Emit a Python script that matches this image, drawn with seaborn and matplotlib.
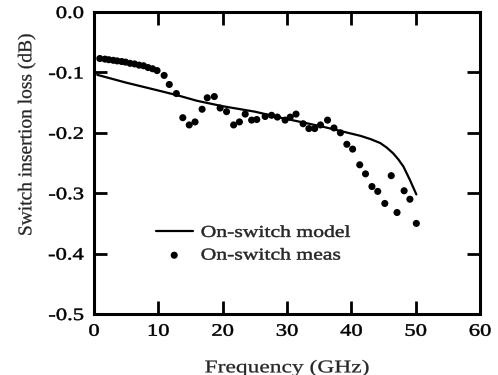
import numpy as np
import pandas as pd
import matplotlib
matplotlib.use("Agg")
import matplotlib.pyplot as plt
import matplotlib.patheffects as pe
from matplotlib.transforms import Affine2D
import seaborn as sns

# Measured on-switch insertion loss
meas_freq = [0.9, 1.7, 2.3, 3.0, 3.6, 4.3, 4.9, 5.6, 6.3, 7.0, 7.7, 8.4, 9.1, 9.8,
             10.9, 11.7, 12.8, 13.8, 14.8, 15.7, 16.8, 17.6, 18.7, 19.6, 20.6,
             21.7, 22.6, 23.5, 24.5, 25.3, 26.6, 27.6, 28.5, 29.7, 30.5, 31.4,
             32.5, 33.4, 34.3, 35.2, 36.3, 37.3, 38.3, 39.3, 40.2, 41.3, 42.2,
             43.2, 44.1, 45.2, 46.2, 47.1, 48.2, 49.1, 50.1]
meas_loss = [-0.077, -0.078, -0.079, -0.080, -0.081, -0.082, -0.083, -0.085,
             -0.086, -0.088, -0.089, -0.092, -0.094, -0.097, -0.105, -0.120,
             -0.135, -0.175, -0.187, -0.182, -0.161, -0.142, -0.140, -0.159,
             -0.165, -0.187, -0.182, -0.169, -0.179, -0.178, -0.173, -0.171,
             -0.174, -0.179, -0.174, -0.169, -0.185, -0.193, -0.193, -0.187,
             -0.179, -0.192, -0.200, -0.219, -0.227, -0.253, -0.268, -0.289,
             -0.297, -0.317, -0.271, -0.332, -0.296, -0.310, -0.350]

# On-switch model curve
model_freq = [0.5, 5, 10, 13, 16, 20, 25, 29, 33, 36, 38.3, 41.4, 43.0, 44.5,
              45.5, 46.5, 47.3, 48.1, 49.1, 50.1]
model_loss = [-0.104, -0.117, -0.130, -0.138, -0.147, -0.156, -0.165, -0.175,
              -0.184, -0.191, -0.197, -0.205, -0.2105, -0.217, -0.2245, -0.234,
              -0.244, -0.256, -0.278, -0.302]

x_ticks = [0, 10, 20, 30, 40, 50, 60]
y_ticks = [0.0, -0.1, -0.2, -0.3, -0.4, -0.5]


class StretchX(pe.AbstractPathEffect):
    """Draw text glyphs widened horizontally about a chosen anchor,
    with a thin outline to give them a little more weight."""

    def __init__(self, sx, anchor=0.5, stroke=0.35):
        super().__init__()
        self.sx = sx
        self.anchor = anchor
        self.stroke = stroke

    def draw_path(self, renderer, gc, tpath, affine, rgbFace=None):
        ext = tpath.get_extents()
        cx = ext.x0 + self.anchor * ext.width
        t = Affine2D().translate(-cx, 0).scale(self.sx, 1).translate(cx, 0) + affine
        gc0 = renderer.new_gc()
        gc0.copy_properties(gc)
        gc0.set_linewidth(self.stroke)
        gc0.set_foreground(rgbFace if rgbFace is not None else "black")
        renderer.draw_path(gc0, tpath, t, rgbFace)
        gc0.restore()


SX = 1.3

sns.set_style("ticks")
plt.rcParams["font.family"] = ["Liberation Serif", "DejaVu Serif"]
plt.rcParams["axes.unicode_minus"] = False

fig = plt.figure(figsize=(4.98, 3.75), dpi=100)
ax = fig.add_axes([0.1888, 0.1627, 0.9639 - 0.1888, 0.968 - 0.1627])

model_df = pd.DataFrame({"f": model_freq, "loss": model_loss})
meas_df = pd.DataFrame({"f": meas_freq, "loss": meas_loss})

sns.lineplot(data=model_df, x="f", y="loss", ax=ax, color="black",
             linewidth=1.6, label="On-switch model", sort=False)
sns.scatterplot(data=meas_df, x="f", y="loss", ax=ax, color="black",
                s=26, edgecolor="none", label="On-switch meas")

ax.set_xlim(0, 60)
ax.set_ylim(-0.5, 0.0)
ax.set_xticks(x_ticks)
ax.set_yticks(y_ticks)
ax.set_xticklabels([str(t) for t in x_ticks])
ax.set_yticklabels([f"{t:.1f}" if t != 0 else "0.0" for t in y_ticks])
ax.tick_params(direction="in", top=True, right=True, length=9.5, width=2.0,
               labelsize=12.5, colors="black")
ax.tick_params(axis="x", pad=7)
ax.tick_params(axis="y", pad=7.5)
for sp in ax.spines.values():
    sp.set_linewidth(2.2)
    sp.set_color("black")

for lab in ax.get_xticklabels():
    lab.set_path_effects([StretchX(SX, 0.5)])
for lab in ax.get_yticklabels():
    lab.set_path_effects([StretchX(SX, 1.0)])

ax.set_xlabel("Frequency (GHz)", fontsize=13, labelpad=14,
              path_effects=[StretchX(SX, 0.5, 0.2)])
ax.set_ylabel("Switch insertion loss (dB)", fontsize=14,
              path_effects=[StretchX(1.0, 0.5, 0.2)])
ax.yaxis.set_label_coords(-0.152, 0.596)

leg = ax.legend(loc="upper left", bbox_to_anchor=(0.143, 0.317), frameon=False,
                fontsize=12, handlelength=2.2, handletextpad=0.5,
                labelspacing=0.4, borderaxespad=0)
for txt in leg.get_texts():
    txt.set_path_effects([StretchX(SX, 0.0)])

fig.savefig("out.png", dpi=100)
